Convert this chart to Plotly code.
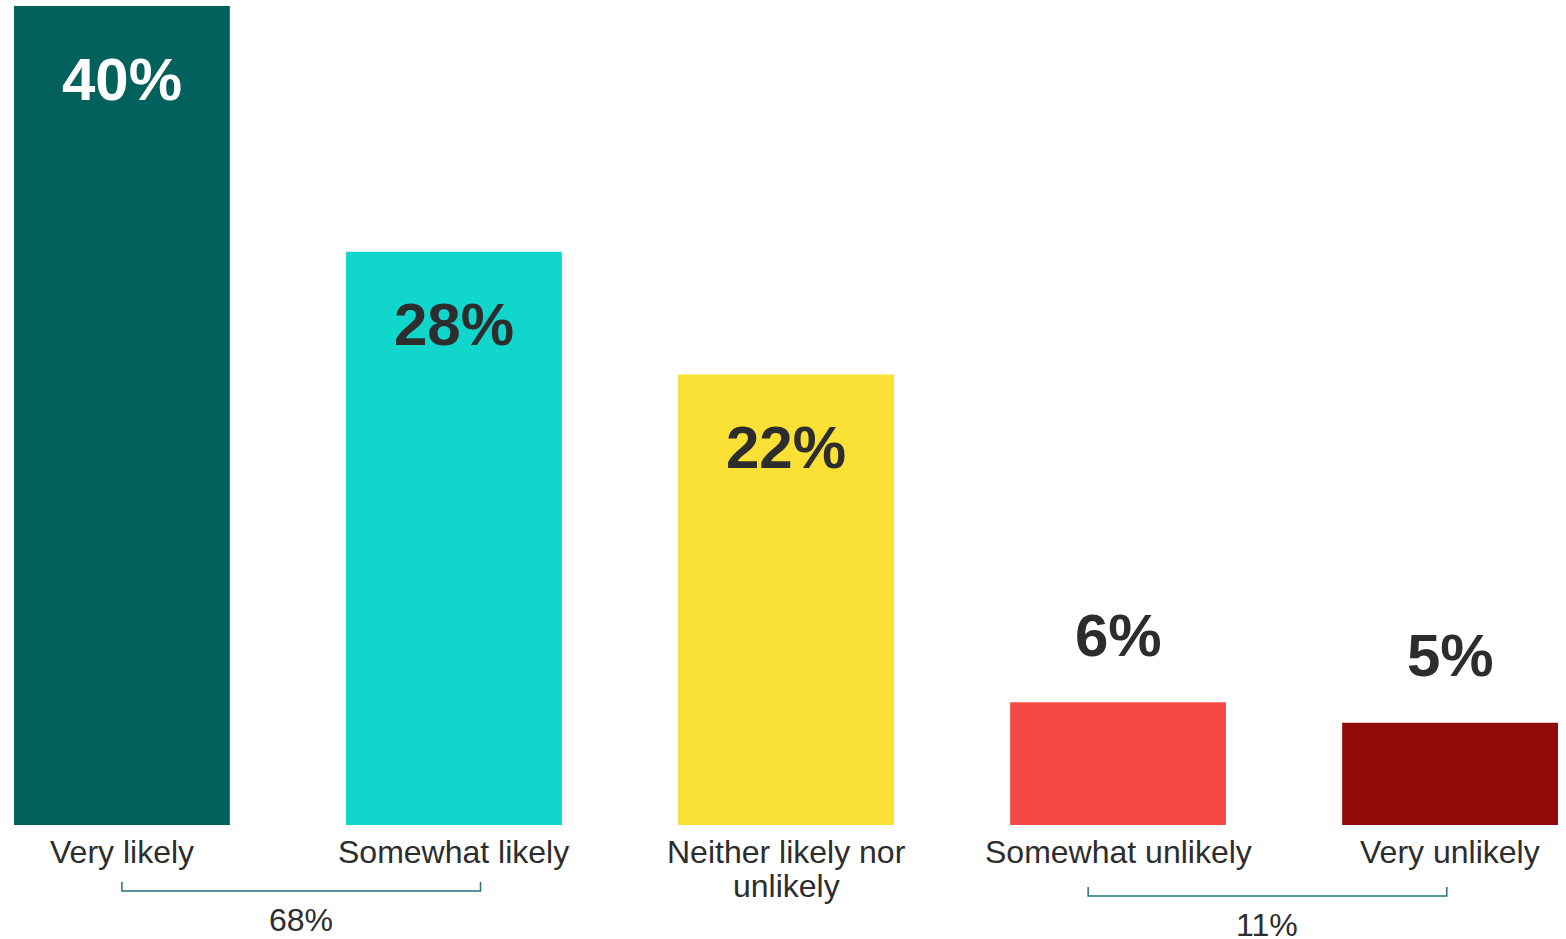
import plotly.graph_objects as go

categories = ["Very likely", "Somewhat likely", "Neither likely nor<br>unlikely", "Somewhat unlikely", "Very unlikely"]
values = [40, 28, 22, 6, 5]
value_labels = ["40%", "28%", "22%", "6%", "5%"]
bar_colors = ["#02615d", "#10d6cc", "#fbe036", "#f64845", "#930a0a"]
label_colors = ["#ffffff", "#2d2d2d", "#2d2d2d", "#2d2d2d", "#2d2d2d"]
label_inside = [True, True, True, False, False]
groups = [
    {"text": "68%", "x0": 0, "x1": 1.08, "y": -0.0806, "ytop": -0.0696, "ytext": -0.116},
    {"text": "11%", "x0": 2.91, "x1": 3.99, "y": -0.0867, "ytop": -0.0757, "ytext": -0.122},
]

FONT = "Liberation Sans, Arial, sans-serif"
xs = list(range(len(categories)))

fig = go.Figure(go.Bar(x=xs, y=values, marker=dict(color=bar_colors, line=dict(width=0)),
                       width=0.65, hoverinfo="skip"))

ann = []
for i, (v, t, c, ins) in enumerate(zip(values, value_labels, label_colors, label_inside)):
    ann.append(dict(x=i, y=v, xref="x", yref="y", text=f"<b>{t}</b>", showarrow=False,
                    font=dict(family=FONT, size=60, color=c), yanchor="middle",
                    yshift=-73 if ins else 67))
for i, cat in enumerate(categories):
    for j, line in enumerate(cat.split("<br>")):
        ann.append(dict(x=i, y=0, xref="x", yref="y", text=line, showarrow=False,
                        font=dict(family=FONT, size=32, color="#2d2d2d"), yanchor="middle",
                        yshift=-27 - 34 * j))

shapes = []
for g in groups:
    shapes.append(dict(type="path", xref="x", yref="paper",
                       path=f"M {g['x0']} {g['ytop']} L {g['x0']} {g['y']} L {g['x1']} {g['y']} L {g['x1']} {g['ytop']}",
                       line=dict(color="#24707a", width=1.5)))
    ann.append(dict(x=(g["x0"] + g["x1"]) / 2, y=g["ytext"], xref="x", yref="paper", text=g["text"],
                    showarrow=False, font=dict(family=FONT, size=32, color="#2d2d2d"), yanchor="middle"))

fig.update_layout(
    width=1566, height=939,
    margin=dict(l=14, r=8, t=6, b=114),
    paper_bgcolor="white", plot_bgcolor="white",
    xaxis=dict(range=[-0.325, 4.325], visible=False, fixedrange=True),
    yaxis=dict(range=[0, 40], visible=False, fixedrange=True),
    annotations=ann, shapes=shapes, showlegend=False,
)
fig.write_html("out.html", config={"displayModeBar": False},
               post_script="document.body.style.margin='0';")
